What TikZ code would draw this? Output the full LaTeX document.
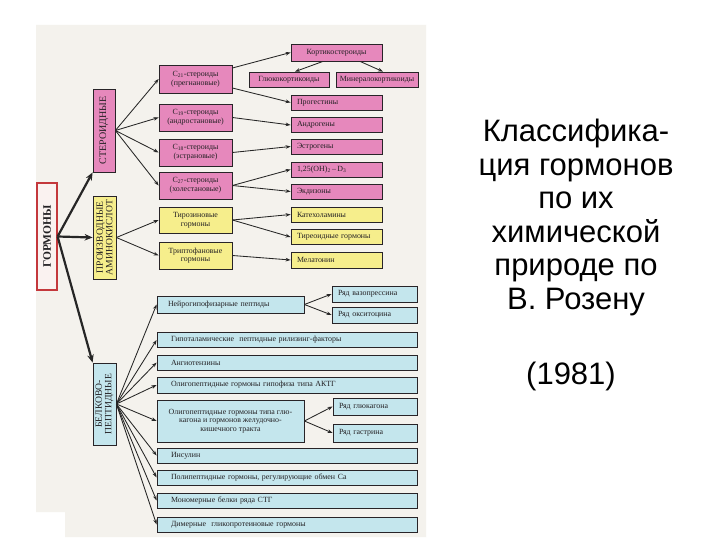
\documentclass[tikz,border=0pt]{standalone}
\usepackage{fontspec}
\setmainfont{Liberation Serif}
\newfontfamily\titlefont{Liberation Sans}
\usetikzlibrary{arrows.meta,calc}
\definecolor{scan}{RGB}{244,242,237}
\definecolor{pinkc}{RGB}{230,136,188}
\definecolor{yelc}{RGB}{246,238,140}
\definecolor{bluec}{RGB}{196,230,237}
\definecolor{redc}{RGB}{196,56,60}
\definecolor{gormfill}{RGB}{250,242,240}
\definecolor{boxline}{RGB}{40,36,40}
\definecolor{txt}{RGB}{35,32,35}
\tikzset{
  box/.style={draw=boxline, line width=0.8pt, inner sep=0pt, text=txt,
    font=\fontsize{7.9}{8.7}\selectfont, align=center},
  pinkbox/.style={box, fill=pinkc},
  yelbox/.style={box, fill=yelc},
  bluebox/.style={box, fill=bluec},
  vlabel/.style={rotate=90, inner sep=0pt, text=txt, align=center,
    font=\fontsize{9.6}{9.6}\selectfont},
  thinarrow/.style={draw=black!85, line width=0.85pt, -{Stealth[length=5pt,width=3.6pt]}},
  thickarrow/.style={draw=black!85, line width=2.2pt, -{Stealth[length=8pt,width=6.5pt]}},
}
\begin{document}
\begin{tikzpicture}[x=1pt,y=-1pt]
\useasboundingbox (0,0) rectangle (720,540);
\fill[white] (0,0) rectangle (720,540);
\fill[scan] (36,25) -- (426,25) -- (426,537) -- (65,537) -- (65,512) -- (36,512) -- cycle;

% main category boxes
\node[box, draw=redc, line width=1.2pt, fill=gormfill, minimum width=20, minimum height=107] (gorm) at (47,236.5) {};
\node[vlabel, font=\bfseries\fontsize{11.5}{11.5}\selectfont] (gormT) at (gorm.center) {ГОРМОНЫ};
\node[pinkbox, minimum width=22, minimum height=83] (ster) at (104,130.5) {};
\node[vlabel, font=\fontsize{10}{10}\selectfont] (sterT) at (ster.center) {СТЕРОИДНЫЕ};
\node[yelbox, minimum width=23, minimum height=83] (amino) at (104.5,237.5) {};
\node[vlabel] (aminoT) at (amino.center) {ПРОИЗВОДНЫЕ\\АМИНОКИСЛОТ};
\node[bluebox, minimum width=23, minimum height=82] (belk) at (104.5,404) {};
\node[vlabel] (belkT) at (belk.center) {БЕЛКОВО-\\ПЕПТИДНЫЕ};

% second column
\node[pinkbox, minimum width=73, minimum height=28] (c21) at (195.5,79) {C\textsubscript{21}-стероиды\\(прегнановые)};
\node[pinkbox, minimum width=73, minimum height=27] (c19) at (195.5,117.5) {C\textsubscript{19}-стероиды\\(андростановые)};
\node[pinkbox, minimum width=73, minimum height=27] (c18) at (195.5,152.5) {C\textsubscript{18}-стероиды\\(эстрановые)};
\node[pinkbox, minimum width=73, minimum height=27] (c27) at (195.5,185.5) {C\textsubscript{27}-стероиды\\(холестановые)};
\node[yelbox, minimum width=73, minimum height=26] (tyr) at (195.5,220) {Тирозиновые\\гормоны};
\node[yelbox, minimum width=73, minimum height=27] (tryp) at (195.5,255.5) {Триптофановые\\гормоны};

% third column (steroids / amino)
\node[pinkbox, minimum width=91, minimum height=17] (kort) at (336.5,52.5) {Кортикостероиды};
\node[pinkbox, minimum width=80, minimum height=15] (gluk) at (289,79.5) {Глюкокортикоиды};
\node[pinkbox, minimum width=82, minimum height=15] (miner) at (377,79.5) {Минералокортикоиды};
\node[pinkbox, minimum height=15, text width=79, inner xsep=6, align=left] (prog) at (336.5,102.5) {Прогестины};
\node[pinkbox, minimum height=15, text width=79, inner xsep=6, align=left] (andr) at (336.5,125) {Андрогены};
\node[pinkbox, minimum height=15, text width=79, inner xsep=6, align=left] (estr) at (336.5,146.5) {Эстрогены};
\node[pinkbox, minimum height=15, text width=79, inner xsep=6, align=left] (d3) at (336.5,169.5) {1,25(OH)\textsubscript{2}\,–\,D\textsubscript{3}};
\node[pinkbox, minimum height=15, text width=79, inner xsep=6, align=left] (ekd) at (336.5,191.5) {Экдизоны};
\node[yelbox, minimum height=15, text width=79, inner xsep=6, align=left] (kat) at (336.5,214.5) {Катехоламины};
\node[yelbox, minimum height=15, text width=79, inner xsep=6, align=left] (tir) at (336.5,237) {Тиреоидные гормоны};
\node[yelbox, minimum height=16, text width=79, inner xsep=6, align=left] (mel) at (336.5,260) {Мелатонин};

% protein-peptide column
\node[bluebox, minimum height=17, text width=125, inner xsep=11, align=left] (neuro) at (230.5,304.5) {Нейрогипофизарные пептиды};
\node[bluebox, minimum height=16, text width=73, inner xsep=6, align=left] (vaz) at (374.5,294) {Ряд вазопрессина};
\node[bluebox, minimum height=16, text width=73, inner xsep=6, align=left] (oks) at (374.5,315) {Ряд окситоцина};
\node[bluebox, minimum height=15, text width=232, inner xsep=14, align=left] (gipo) at (287,340) {Гипоталамические\ \ пептидные рилизинг-факторы};
\node[bluebox, minimum height=15, text width=232, inner xsep=14, align=left] (ang) at (287,362.5) {Ангиотензины};
\node[bluebox, minimum height=16, text width=232, inner xsep=14, align=left] (aktg) at (287,385) {Олигопептидные гормоны гипофиза типа АКТГ};
\node[bluebox, minimum width=147, minimum height=42] (oglu) at (230.5,421) {Олигопептидные гормоны типа глю-\\кагона и гормонов желудочно-\\кишечного тракта};
\node[bluebox, minimum height=17, text width=72, inner xsep=6, align=left] (glukg) at (375,406.5) {Ряд глюкагона};
\node[bluebox, minimum height=18, text width=72, inner xsep=6, align=left] (gastr) at (375,433) {Ряд гастрина};
\node[bluebox, minimum height=15, text width=232, inner xsep=14, align=left] (ins) at (287,455.5) {Инсулин};
\node[bluebox, minimum height=15, text width=232, inner xsep=14, align=left] (poly) at (287,477.5) {Полипептидные гормоны, регулирующие обмен Ca};
\node[bluebox, minimum height=15, text width=232, inner xsep=14, align=left] (mono) at (287,500.5) {Мономерные белки ряда СТГ};
\node[bluebox, minimum height=15, text width=232, inner xsep=14, align=left] (dim) at (287,524.5) {Димерные\ \ гликопротеиновые гормоны};

% thick arrows
\draw[thickarrow] (gorm.east) -- (ster.south west);
\draw[thickarrow] (gorm.east) -- (amino.west);
\draw[thickarrow] (gorm.east) -- (belk.north west);

% steroid fan
\foreach \t in {c21,c19,c18,c27} \draw[thinarrow] (ster.east) -- (\t.west);
\draw[thinarrow] ($(c21.east)+(0,-11)$) -- (kort.west);
\draw[thinarrow] ($(c21.east)+(0,9)$) -- (prog.west);
\draw[thinarrow] ($(kort.south)+(-13.5,0)$) -- ($(gluk.north)+(6,0)$);
\draw[thinarrow] ($(kort.south)+(23.5,0)$) -- ($(miner.north)+(6,0)$);
\draw[thinarrow] (c19.east) -- (andr.west);
\draw[thinarrow] (c18.east) -- (estr.west);
\draw[thinarrow] (c27.east) -- (d3.west);
\draw[thinarrow] (c27.east) -- (ekd.west);

% amino fan
\draw[thinarrow] (amino.east) -- (tyr.west);
\draw[thinarrow] (amino.east) -- (tryp.west);
\draw[thinarrow] (tyr.east) -- (kat.west);
\draw[thinarrow] (tyr.east) -- (tir.west);
\draw[thinarrow] (tryp.east) -- (mel.west);

% protein fan
\foreach \t in {neuro,gipo,ang,aktg,oglu,ins,poly,mono,dim} \draw[thinarrow] (belk.east) -- (\t.west);
\draw[thinarrow] (neuro.east) -- (vaz.west);
\draw[thinarrow] (neuro.east) -- (oks.west);
\draw[thinarrow] (oglu.east) -- (glukg.west);
\draw[thinarrow] (oglu.east) -- (gastr.west);

% title
\node[font=\titlefont\fontsize{31}{33.5}\selectfont, align=center, inner sep=0pt, anchor=north] (title) at (576,119) {Классифика-\\ция гормонов\\по их\\химической\\природе по\\В. Розену};
\node[font=\titlefont\fontsize{31}{33.5}\selectfont, inner sep=0pt, anchor=base] (year) at (571,384) {(1981)};
\end{tikzpicture}
\end{document}
